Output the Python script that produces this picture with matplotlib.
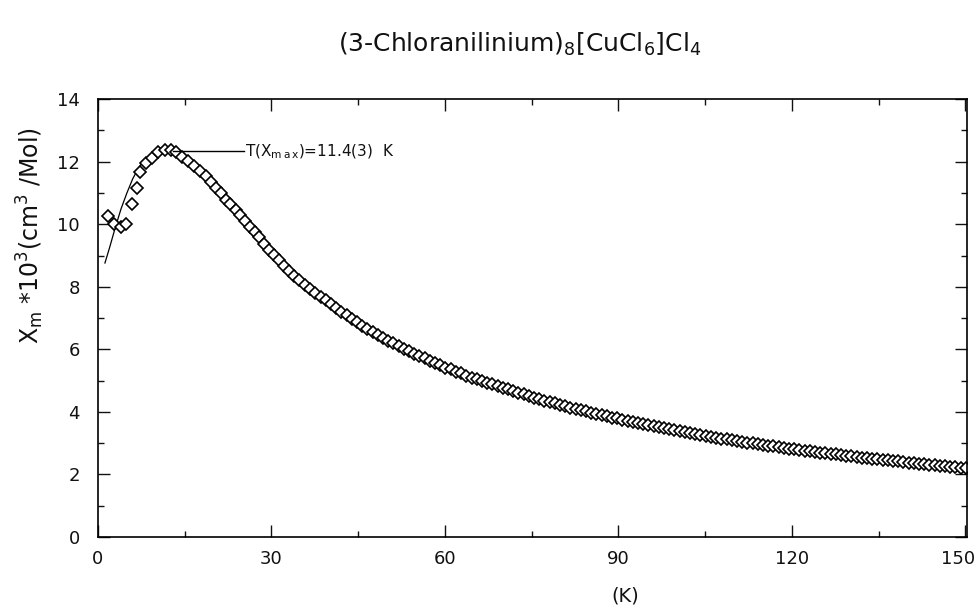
import matplotlib
matplotlib.use("Agg")
import matplotlib.pyplot as plt
from matplotlib.ticker import MultipleLocator

plt.rcParams["mathtext.default"] = "regular"
plt.rcParams["font.family"] = "DejaVu Sans"

# measured points, low temperature part
t_low = [1.8, 2.8, 3.9, 4.9, 5.9, 6.8, 7.3, 8.3, 9.3, 10.4, 11.6, 12.6, 13.5,
         14.6, 15.6, 16.6, 17.6, 18.6, 19.5, 20.4, 21.2, 22.1, 22.9, 23.8, 24.5,
         25.4, 26.3, 27.1, 27.9, 28.7, 29.6, 30.4, 31.3, 32.1, 33.0, 33.9, 34.8, 35.8]
chi_low = [10.26, 10.0, 9.91, 10.0, 10.66, 11.17, 11.67, 11.96, 12.13, 12.31, 12.36,
           12.36, 12.32, 12.15, 12.02, 11.85, 11.70, 11.53, 11.35, 11.17, 11.0, 10.79,
           10.64, 10.45, 10.29, 10.11, 9.91, 9.74, 9.58, 9.36, 9.17, 9.01, 8.85, 8.68,
           8.51, 8.34, 8.21, 8.05]

# measured points, high temperature part
t_high = [36.7, 37.6, 38.5, 39.4, 40.3, 41.2, 42.1, 43.0, 43.9, 44.8, 45.7, 46.6, 47.5,
          48.4, 49.3, 50.2, 51.1, 52.0, 52.9, 53.8, 54.7, 55.6, 56.5, 57.4, 58.3, 59.2,
          60.1, 61.0, 61.9, 62.8, 63.7, 64.6, 65.5, 66.4, 67.3, 68.2, 69.1, 70.0, 70.9,
          71.8, 72.7, 73.6, 74.5, 75.4, 76.3, 77.2, 78.1, 79.0, 79.9, 80.8, 81.7, 82.6,
          83.5, 84.4, 85.3, 86.2, 87.1, 88.0, 88.9, 89.8, 90.7, 91.6, 92.5, 93.4, 94.3,
          95.2, 96.1, 97.0, 97.9, 98.8, 99.7, 100.6, 101.5, 102.4, 103.3, 104.2, 105.1,
          106.0, 106.9, 107.8, 108.7, 109.6, 110.5, 111.4, 112.3, 113.2, 114.1, 115.0,
          115.9, 116.8, 117.7, 118.6, 119.5, 120.4, 121.3, 122.2, 123.1, 124.0, 124.9,
          125.8, 126.7, 127.6, 128.5, 129.4, 130.3, 131.2, 132.1, 133.0, 133.9, 134.8,
          135.7, 136.6, 137.5, 138.4, 139.3, 140.2, 141.1, 142.0, 142.9, 143.8, 144.7,
          145.6, 146.5, 147.4, 148.3, 149.2, 150.1]
chi_high = [7.93, 7.81, 7.69, 7.57, 7.46, 7.33, 7.21, 7.09, 6.97, 6.87, 6.76, 6.66, 6.56,
            6.46, 6.37, 6.28, 6.19, 6.10, 6.02, 5.94, 5.86, 5.78, 5.71, 5.63, 5.56, 5.49,
            5.42, 5.36, 5.29, 5.23, 5.16, 5.10, 5.04, 4.99, 4.93, 4.88, 4.82, 4.77, 4.72,
            4.66, 4.61, 4.56, 4.51, 4.46, 4.41, 4.36, 4.32, 4.27, 4.23, 4.19, 4.14, 4.10,
            4.06, 4.02, 3.98, 3.94, 3.90, 3.86, 3.82, 3.79, 3.75, 3.71, 3.68, 3.64, 3.61,
            3.57, 3.54, 3.51, 3.47, 3.44, 3.41, 3.38, 3.35, 3.32, 3.29, 3.26, 3.24,
            3.21, 3.18, 3.15, 3.13, 3.10, 3.08, 3.05, 3.02, 3.00, 2.97, 2.95,
            2.92, 2.90, 2.88, 2.85, 2.83, 2.81, 2.78, 2.76, 2.74, 2.72, 2.70,
            2.68, 2.66, 2.64, 2.62, 2.60, 2.58, 2.56, 2.54, 2.52, 2.50, 2.49,
            2.47, 2.45, 2.43, 2.42, 2.40, 2.38, 2.37, 2.35, 2.33, 2.31, 2.30,
            2.28, 2.27, 2.25, 2.23, 2.22, 2.20]

# fitted curve
t_fit = [1.2, 2, 3, 4, 5, 6, 7, 8, 9, 10, 11, 12, 13, 14, 15, 16, 18, 20, 22, 24, 26,
         28, 30, 33, 36, 40, 45, 50, 55, 60, 65, 70, 80, 90, 100, 110, 120, 130, 140, 150]
chi_fit = [8.76, 9.25, 9.9, 10.5, 11.0, 11.45, 11.8, 12.05, 12.22, 12.32, 12.36, 12.36,
           12.32, 12.24, 12.12, 11.98, 11.64, 11.26, 10.85, 10.42, 10.0, 9.58, 9.15,
           8.55, 7.98, 7.38, 6.74, 6.2, 5.76, 5.38, 5.03, 4.74, 4.22, 3.79, 3.43, 3.12,
           2.86, 2.63, 2.43, 2.25]

x_ticks = [0, 30, 60, 90, 120, 150]
x_labels = ["0", "30", "60", "90", "120", ""]

t_data = t_low + t_high
chi_data = chi_low + chi_high

fig = plt.figure(figsize=(9.77, 6.12), dpi=100)
ax = fig.add_axes([0.1003, 0.1225, 0.8895, 0.7155])

ax.plot(t_fit, chi_fit, color="black", lw=0.9)
ax.plot(t_data, chi_data, ls="none", marker="D", ms=6.5, mfc="white",
        mec="black", mew=1.2)

ax.set_xlim(0, 150.3)
ax.set_ylim(0, 14)
ax.set_xticks(x_ticks, x_labels)
ax.xaxis.set_minor_locator(MultipleLocator(15))
ax.yaxis.set_major_locator(MultipleLocator(2))
ax.yaxis.set_minor_locator(MultipleLocator(1))
ax.tick_params(which="both", direction="in", top=True, right=True,
               labelsize=13, width=1.0, colors="#111111")
ax.tick_params(axis="x", pad=9)
ax.tick_params(axis="y", pad=13)
ax.tick_params(which="major", length=8.5)
ax.tick_params(which="minor", length=4)
for s in ax.spines.values():
    s.set_linewidth(1.2)

# last x label sits against the right edge, as in the original
ax.annotate("150", xy=(x_ticks[-1], 0), xycoords=("data", "axes fraction"),
            xytext=(-5, -9), textcoords="offset points", ha="center", va="top",
            fontsize=13, color="#111111")

# annotation for the maximum
ax.plot([12.9, 25.3], [12.33, 12.33], color="black", lw=1.0)
ax.text(25.5, 12.33, "T(X$_{m\\,a\\,x}$)=11.4(3)  K", fontsize=11, va="center",
        ha="left", color="#111111")

fig.text(0.532, 0.928, "(3-Chloranilinium)$_8$[CuCl$_6$]Cl$_4$", fontsize=18,
         ha="center", va="center", color="#111111")
fig.text(0.031, 0.615, "X$_m$ *10$^3$(cm$^3$ /Mol)", fontsize=17, rotation=90,
         ha="center", va="center", color="#111111")
fig.text(0.64, 0.026, "(K)", fontsize=14, ha="center", va="center", color="#111111")

fig.savefig("out.png", dpi=100)
